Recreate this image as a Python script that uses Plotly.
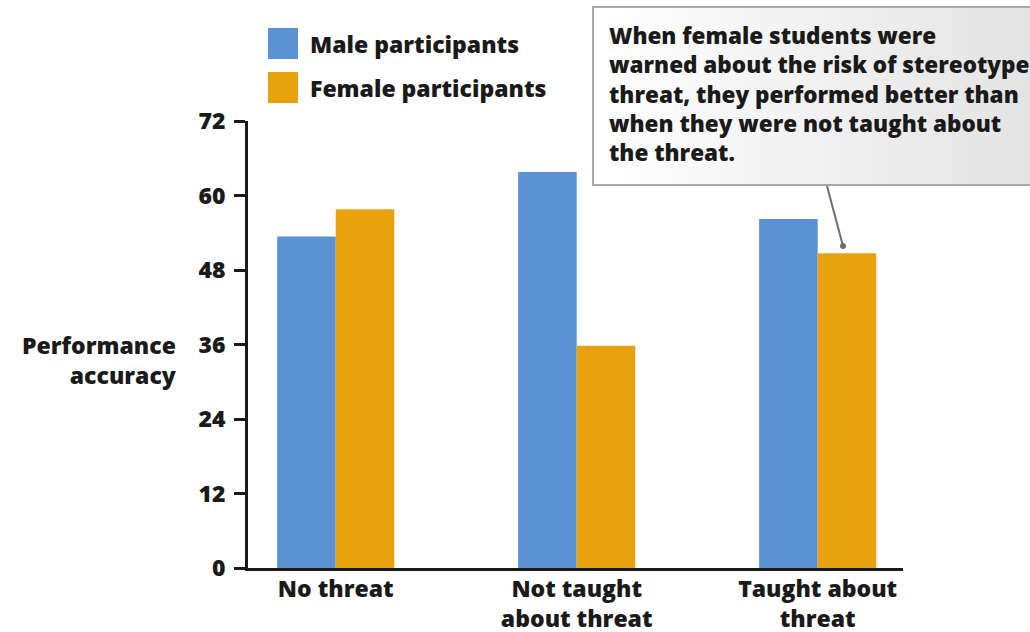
import plotly.graph_objects as go

# Data
categories = ["No threat", "Not taught<br>about threat", "Taught about<br>threat"]
male_scores = [53.4, 63.8, 56.2]
female_scores = [57.8, 35.8, 50.7]
series_names = ["Male participants", "Female participants"]
y_ticks = [0, 12, 24, 36, 48, 60, 72]

BLUE = "#5a93d4"
ORANGE = "#e9a20f"
FONT = "Open Sans"
WEIGHT = 800
INK = "#1a1a1a"

W, H = 1030, 632
L, R, T, B = 248, 127, 121, 64
PW, PH = W - L - R, H - T - B


def px_x(p):
    return (p - L) / PW


def px_y(p):
    return (H - B - p) / PH


def font(size):
    return dict(family=FONT, size=size, color=INK, weight=WEIGHT)


fig = go.Figure()
fig.add_trace(go.Bar(x=list(range(len(categories))), y=male_scores, name=series_names[0],
                     marker=dict(color=BLUE, line=dict(width=0)), showlegend=False))
fig.add_trace(go.Bar(x=list(range(len(categories))), y=female_scores, name=series_names[1],
                     marker=dict(color=ORANGE, line=dict(width=0)), showlegend=False))

shapes = []
annotations = []

# Legend swatches and labels
for i, (name, col) in enumerate(zip(series_names, [BLUE, ORANGE])):
    top = 28 + i * 44
    shapes.append(dict(type="rect", xref="paper", yref="paper",
                       x0=px_x(268), x1=px_x(298), y0=px_y(top), y1=px_y(top + 31),
                       fillcolor=col, line=dict(width=0)))
    annotations.append(dict(xref="paper", yref="paper", x=px_x(308), y=px_y(top + 16),
                            xanchor="left", yanchor="middle", showarrow=False,
                            text=name, font=font(23)))

# Callout box with a soft horizontal gradient
bx0, bx1, by0, by1 = 593, 1040, 7, 185
n_strips = 40
for k in range(n_strips):
    t = k / (n_strips - 1)
    g = int(round(255 - t * 28))
    shapes.append(dict(type="rect", xref="paper", yref="paper", layer="below",
                       x0=px_x(bx0 + (bx1 - bx0) * k / n_strips),
                       x1=px_x(bx0 + (bx1 - bx0) * (k + 1) / n_strips + 1),
                       y0=px_y(by1), y1=px_y(by0),
                       fillcolor=f"rgb({g},{g},{g})", line=dict(width=0)))
shapes.append(dict(type="rect", xref="paper", yref="paper",
                   x0=px_x(bx0), x1=px_x(bx1), y0=px_y(by1), y1=px_y(by0),
                   fillcolor="rgba(0,0,0,0)", line=dict(color="#a8a8a8", width=2)))

# Pointer from the callout to the female "Taught about threat" bar
shapes.append(dict(type="line", xref="paper", yref="paper",
                   x0=px_x(827), y0=px_y(186), x1=px_x(843), y1=px_y(246),
                   line=dict(color="#6e6e6e", width=2)))
shapes.append(dict(type="circle", xref="paper", yref="paper",
                   x0=px_x(840), x1=px_x(846), y0=px_y(249), y1=px_y(243),
                   fillcolor="#6e6e6e", line=dict(width=0)))

annotations.append(dict(
    xref="paper", yref="paper", x=px_x(607), y=px_y(18), xanchor="left", yanchor="top",
    showarrow=False, align="left",
    text=("When female students were<br>warned about the risk of stereotype<br>"
          "threat, they performed better than<br>when they were not taught about<br>the threat."),
    font=font(22.5)))

# Y-axis title
annotations.append(dict(
    xref="paper", yref="paper", x=px_x(179), y=px_y(360), xanchor="right", yanchor="middle",
    showarrow=False, align="right", text="Performance<br>accuracy",
    font=font(23)))

fig.update_layout(
    width=W, height=H,
    margin=dict(l=L, r=R, t=T, b=B, pad=0),
    paper_bgcolor="white", plot_bgcolor="white",
    barmode="group", bargap=0.514, bargroupgap=0,
    shapes=shapes, annotations=annotations,
    xaxis=dict(range=[-0.364, 2.354], tickmode="array", automargin=False,
               tickvals=list(range(len(categories))), ticktext=categories,
               showline=True, linecolor=INK, linewidth=3, ticks="",
               ticklabelstandoff=-2,
               showgrid=False, zeroline=False,
               tickfont=font(23)),
    yaxis=dict(range=[0, 72], tickmode="array", tickvals=y_ticks, automargin=False,
               showline=True, linecolor=INK, linewidth=3,
               ticks="outside", ticklen=11, tickwidth=3, tickcolor=INK,
               ticklabelstandoff=4,
               showgrid=False, zeroline=False,
               tickfont=font(23)),
)

fig.write_html("out.html")
